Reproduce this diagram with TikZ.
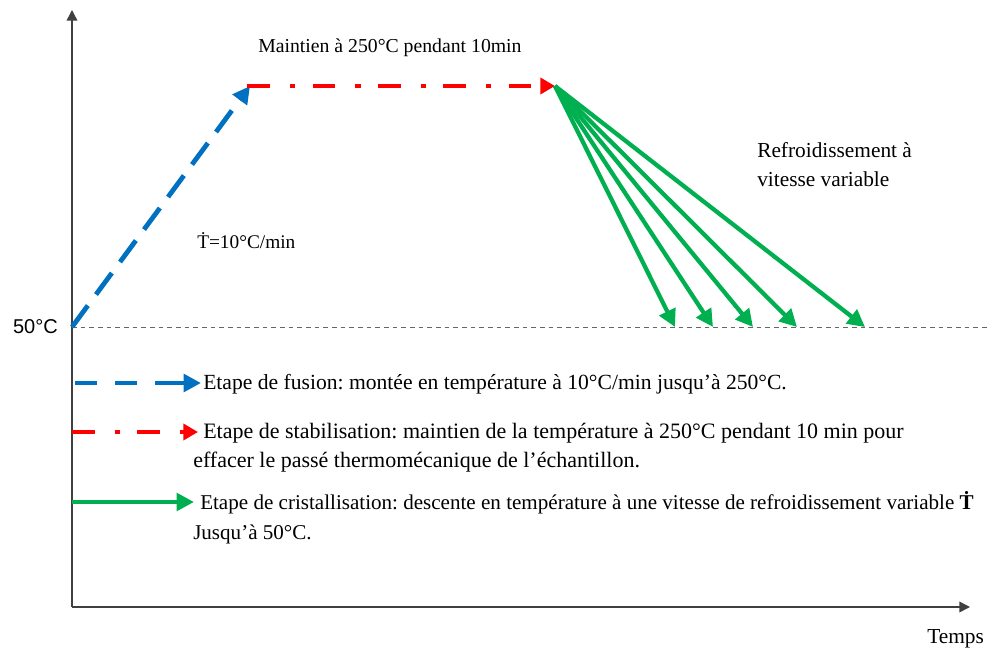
\documentclass[tikz,border=0pt]{standalone}
\usepackage{fontspec}
\setmainfont{Liberation Serif}
\newfontfamily\sansf{Liberation Sans}
\usetikzlibrary{arrows.meta,calc}
\definecolor{fblue}{RGB}{0,112,192}
\definecolor{fred}{RGB}{255,0,0}
\definecolor{fgreen}{RGB}{0,176,80}
\frenchspacing
\begin{document}
\begin{tikzpicture}[x=0.75pt,y=-0.75pt,
  axis/.style={line width=1.1pt, draw=black!75, -{Triangle[length=8pt,width=8pt]}},
  fusionline/.style={draw=fblue, line width=3.6pt},
  fusiontip/.style={draw=fblue, line width=3.6pt, -{Triangle[length=13pt,width=13pt,fill=fblue]}},
  stab/.style={draw=fred, line width=3.6pt, dash pattern=on 17pt off 15pt on 4pt off 13pt, -{Triangle[length=11pt,width=12pt,fill=fred]}},
  cryst/.style={draw=fgreen, line width=3.2pt, -{Triangle[length=13pt,width=13pt,fill=fgreen]}},
  ref/.style={draw=black!60, line width=0.7pt, dash pattern=on 3.5pt off 3pt},
  ltxt/.style={anchor=base west, inner sep=0pt, font=\fontsize{16}{18}\selectfont},
  mtxt/.style={anchor=base west, inner sep=0pt, font=\fontsize{14.8}{17}\selectfont}
]
\useasboundingbox (0,0) rectangle (987,652);
% axes
\coordinate (O) at (72,607);
\coordinate (Ytop) at (72,10);
\coordinate (Xend) at (970,607);
\draw[axis] (O) -- (Ytop);
\draw[axis] (O) -- (Xend);
\node[ltxt] (temps) at (927,643) {Temps};
% reference line
\coordinate (L0) at (72,327);
\coordinate (L1) at (990,327);
\draw[ref] (L0) -- (L1);
\node[anchor=base east, inner sep=0pt, font=\sansf\fontsize{15}{17}\selectfont] (t50) at (58,333) {50°C};
% profile
\coordinate (A) at (72,327);
\coordinate (B) at (250,86);
\coordinate (C) at (555,86);
\coordinate (Bt) at ($(B)!13pt!(A)$);
\draw[fusionline, dash pattern=on 20pt off 10.3pt] (A) -- (Bt);
\draw[fusiontip] (Bt) -- (B);
\draw[stab, shorten <=-2pt] (B) -- (C);
\coordinate (E1) at (675,327);
\coordinate (E2) at (713,327);
\coordinate (E3) at (753,327);
\coordinate (E4) at (797,327);
\coordinate (E5) at (865,327);
\foreach \e in {E1,E2,E3,E4,E5} \draw[cryst] (C) -- (\e);
% labels
\node[mtxt] (maint) at (258,53) {Maintien à 250°C pendant 10min};
\node[ltxt] (refr1) at (757,158) {Refroidissement à};
\node[ltxt] (refr2) at (757,187) {vitesse variable};
\node[anchor=base west, inner sep=0pt, font=\fontsize{14.5}{16}\selectfont] (rate) at (197,248) {\.{T}=10°C/min};
% legend
\coordinate (LB0) at (75,383);
\coordinate (LBm) at (155,383);
\coordinate (LB1) at (201,383);
\coordinate (LR0) at (72,432);
\coordinate (LR1) at (198,432);
\coordinate (LG0) at (72,502);
\coordinate (LG1) at (194,502);
\draw[fusionline, dash pattern=on 16.5pt off 13.5pt] (LB0) -- (LBm);
\draw[fusiontip] (LBm) -- (LB1);
\draw[stab] (LR0) -- (LR1);
\draw[cryst] (LG0) -- (LG1);
\node[anchor=base west, inner sep=0pt, font=\fontsize{16.2}{18}\selectfont] (lb) at (203,389) {Etape de fusion: montée en température à 10°C/min jusqu’à 250°C.};
\node[anchor=base west, inner sep=0pt, font=\fontsize{16.5}{18}\selectfont] (lr1) at (203,438) {Etape de stabilisation: maintien de la température à 250°C pendant 10 min pour};
\node[anchor=base west, inner sep=0pt, font=\fontsize{16.5}{18}\selectfont] (lr2) at (193,467) {effacer le passé thermomécanique de l’échantillon.};
\node[anchor=base west, inner sep=0pt, font=\fontsize{15.8}{18}\selectfont] (lg1) at (200,509) {Etape de cristallisation: descente en température à une vitesse de refroidissement variable \textbf{\.{T}}};
\node[anchor=base west, inner sep=0pt, font=\fontsize{15.8}{18}\selectfont] (lg2) at (193,539) {Jusqu’à 50°C.};
\end{tikzpicture}
\end{document}
